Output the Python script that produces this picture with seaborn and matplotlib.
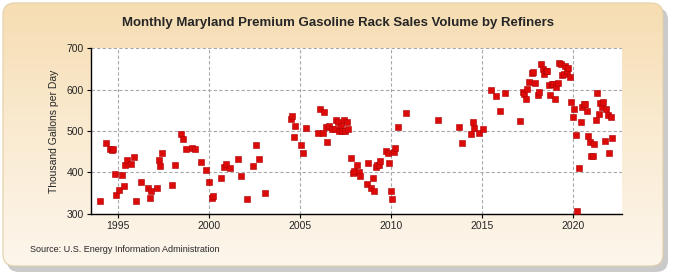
import numpy as np
import pandas as pd
import matplotlib
matplotlib.use('Agg')
import matplotlib.pyplot as plt
from matplotlib.patches import FancyBboxPatch
from matplotlib.colors import LinearSegmentedColormap
import seaborn as sns

# Monthly Maryland premium gasoline rack sales (thousand gallons per day)
months = ['1994-01', '1994-05', '1994-08', '1994-09', '1994-10', '1994-11', '1994-12',
          '1995-02', '1995-04', '1995-05', '1995-06', '1995-07', '1995-10', '1995-12',
          '1996-01', '1996-04', '1996-09', '1996-10', '1996-11',
          '1997-03', '1997-04', '1997-05', '1997-06',
          '1998-01', '1998-03', '1998-07', '1998-08', '1998-10',
          '1999-02', '1999-04', '1999-08', '1999-11',
          '2000-01', '2000-03', '2000-04', '2000-09', '2000-11', '2000-12',
          '2001-03', '2001-08', '2001-10',
          '2002-02', '2002-06', '2002-08', '2002-10', '2003-02',
          '2004-07', '2004-08', '2004-09', '2004-10',
          '2005-02', '2005-03', '2005-05',
          '2006-01', '2006-02', '2006-04', '2006-05', '2006-06', '2006-07', '2006-08', '2006-10', '2006-12',
          '2007-01', '2007-02', '2007-03', '2007-04', '2007-05', '2007-06', '2007-07', '2007-08', '2007-09',
          '2007-11', '2007-12',
          '2008-01', '2008-03', '2008-04', '2008-05', '2008-09', '2008-10', '2008-12',
          '2009-01', '2009-02', '2009-03', '2009-04', '2009-05', '2009-06', '2009-10', '2009-11', '2009-12',
          '2010-01', '2010-02', '2010-03', '2010-04', '2010-06', '2010-11',
          '2012-08', '2013-10', '2013-12',
          '2014-06', '2014-07', '2014-08', '2014-11',
          '2015-02', '2015-07', '2015-10', '2016-01', '2016-04',
          '2017-02', '2017-04', '2017-05', '2017-06', '2017-07', '2017-08', '2017-10', '2017-11', '2017-12',
          '2018-02', '2018-03', '2018-04', '2018-05', '2018-06', '2018-07', '2018-08', '2018-09',
          '2018-10', '2018-11', '2018-12',
          '2019-01', '2019-02', '2019-03', '2019-04', '2019-05', '2019-06', '2019-07', '2019-08',
          '2019-09', '2019-10', '2019-11', '2019-12',
          '2020-01', '2020-02', '2020-03', '2020-04', '2020-05', '2020-06', '2020-07', '2020-08',
          '2020-09', '2020-10', '2020-11', '2020-12',
          '2021-01', '2021-02', '2021-03', '2021-04', '2021-05', '2021-06', '2021-07', '2021-08',
          '2021-09', '2021-10', '2021-11', '2021-12',
          '2022-01', '2022-02', '2022-03']

volume = [332, 470, 456, 454, 456, 397, 346,
          358, 394, 368, 418, 430, 421, 438,
          332, 378, 363, 339, 356,
          363, 430, 416, 447,
          370, 418, 493, 481, 457,
          459, 457, 426, 406,
          378, 339, 344, 387, 414, 421,
          411, 433, 392,
          337, 416, 466, 433, 351,
          529, 536, 486, 512,
          466, 447, 507,
          495, 553, 495, 545, 510, 474, 512, 505, 505,
          526, 523, 500, 512, 500, 526, 500, 521, 505,
          435, 399,
          404, 418, 402, 392, 373, 423, 363,
          387, 356, 414, 417, 418, 428, 452, 447, 423,
          356, 337, 450, 459, 510, 544,
          526, 510, 471,
          493, 521, 507, 495,
          505, 598, 584, 548, 591,
          524, 594, 589, 577, 601, 618, 639, 642, 615,
          586, 594, 661, 649, 637, 646, 646, 610,
          586, 613, 613,
          577, 606, 615, 663, 661, 634, 637, 656,
          646, 651, 630, 570,
          534, 553, 490, 308, 411, 522, 558, 565,
          565, 548, 488, 474,
          440, 440, 469, 526, 591, 541, 567, 558,
          570, 477, 553, 539,
          447, 534, 483]

tick_years = [1995, 2000, 2005, 2010, 2015, 2020]

df = pd.DataFrame({'Date': pd.to_datetime(months), 'Volume': volume})

sns.set_style('white')
plt.rcParams['font.family'] = ['Liberation Sans', 'DejaVu Sans']

fig = plt.figure(figsize=(6.75, 2.75), dpi=100)
fig.patch.set_facecolor('white')

# rounded beige panel with a soft shadow behind everything
bg = fig.add_axes([0, 0, 1, 1], zorder=-10)
bg.axis('off')
shadow = FancyBboxPatch((7, 8), 661, 264, boxstyle='round,pad=0,rounding_size=12',
                        fc='#b4b4b4', ec='none', alpha=0.7, zorder=0)
bg.add_patch(shadow)
panel = FancyBboxPatch((3, 3), 660, 263, boxstyle='round,pad=0,rounding_size=12',
                       fc='none', ec='#e2cfa8', lw=0.8, zorder=2)
bg.add_patch(panel)
grad = np.linspace(0, 1, 256).reshape(-1, 1)
bg_cmap = LinearSegmentedColormap.from_list('bg', ['#F6DDB2', '#FAEBD2', '#FDF6EC'])
im = bg.imshow(grad, extent=[3, 663, 266, 3], cmap=bg_cmap, aspect='auto',
               origin='upper', zorder=1)
im.set_clip_path(panel)
bg.set_xlim(0, 675)
bg.set_ylim(275, 0)

ax = fig.add_axes([0.135, 0.222, 0.786, 0.603])
ax.set_facecolor('white')
sns.scatterplot(data=df, x='Date', y='Volume', marker='s', s=16,
                color='#DD0A0A', edgecolor='#B00000', linewidth=0.4, ax=ax, zorder=3)

ax.set_xlim(pd.Timestamp('1993-07-15'), pd.Timestamp('2022-09-05'))
ax.set_ylim(300, 700)
ax.set_yticks([300, 400, 500, 600, 700])
ax.set_xticks(pd.to_datetime([f'{y}-01-01' for y in tick_years]))
ax.set_xticklabels([str(y) for y in tick_years])

ax.grid(True, linestyle=(0, (3, 2)), color='#a8a8a8', linewidth=0.8)
ax.set_axisbelow(True)
for side in ['top', 'right']:
    ax.spines[side].set_visible(False)
for side in ['left', 'bottom']:
    ax.spines[side].set_color('black')
    ax.spines[side].set_linewidth(1.0)
ax.tick_params(axis='both', which='major', labelsize=7.5, length=3, direction='out',
               color='black', pad=2, bottom=True, left=True)

ax.set_xlabel('')
ax.set_ylabel('Thousand Gallons per Day', fontsize=7.5, labelpad=6)

fig.text(0.5, 0.918, 'Monthly Maryland Premium Gasoline Rack Sales Volume by Refiners',
         ha='center', va='center', fontsize=9.5, fontweight='bold')
fig.text(0.044, 0.093, 'Source: U.S. Energy Information Administration',
         ha='left', va='center', fontsize=6.5)

fig.savefig('out.png', dpi=100)
